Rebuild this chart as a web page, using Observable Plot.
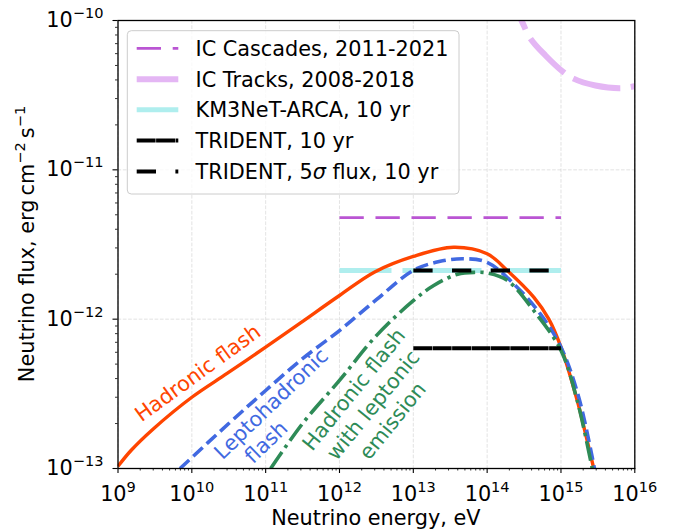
<!DOCTYPE html>
<html><head><meta charset="utf-8">
<script src="https://cdn.jsdelivr.net/npm/d3@7"></script>
<script src="https://cdn.jsdelivr.net/npm/@observablehq/plot@0.6"></script>
<style>
body{margin:0;background:#fff;font-family:"DejaVu Sans",sans-serif;}
</style></head><body><div id="chart"></div>
<script>
// ---- data ----
const hadE = [1e9, 1.5e9, 3e9, 1e10, 3e10, 1e11, 3e11, 1e12, 3e12, 1e13, 3.5e13, 1e14, 1.87e14, 4.3e14, 6.85e14, 1e15, 1.66e15, 2.15e15, 2.78e15];
const hadF = [1.035e-13, 1.32e-13, 1.84e-13, 3.0e-13, 4.33e-13, 6.49e-13, 9.48e-13, 1.44e-12, 2.07e-12, 2.63e-12, 3.03e-12, 2.74e-12, 2.12e-12, 1.40e-12, 1.0e-12, 6.49e-13, 2.85e-13, 1.71e-13, 1.0e-13];

const leptoE = [6.92e9, 3.16e10, 1e11, 3.16e11, 1e12, 3.16e12, 1e13, 2.24e13, 4.83e13, 1e14, 2.3e14, 5.28e14, 1e15, 1.74e15, 2.84e15];
const leptoF = [1e-13, 2.0e-13, 3.33e-13, 5.44e-13, 8.39e-13, 1.35e-12, 2.12e-12, 2.43e-12, 2.54e-12, 2.40e-12, 1.72e-12, 1.08e-12, 6.49e-13, 3.0e-13, 1e-13];

const hlE = [1.17e11, 3.16e11, 1e12, 3.16e12, 1e13, 1.89e13, 3.98e13, 6.95e13, 1e14, 1.87e14, 4.29e14, 1e15, 1.66e15, 2.65e15];
const hlF = [1e-13, 2.0e-13, 3.89e-13, 7.76e-13, 1.33e-12, 1.68e-12, 2.0e-12, 2.06e-12, 2.04e-12, 1.82e-12, 1.14e-12, 6.17e-13, 2.85e-13, 1e-13];

const tracksE = [2.51e14, 2.99e14, 3.86e14, 6.17e14, 1.08e15, 1.48e15, 2.93e15, 6.40e15, 1e16];
const tracksF = [1.17e-10, 9.75e-11, 7.57e-11, 5.83e-11, 4.51e-11, 4.08e-11, 3.67e-11, 3.52e-11, 3.63e-11];

const cascE = [1e12, 1e15];
const cascF = [4.78e-12, 4.78e-12];
const km3E = [1e12, 1e15];
const km3F = [2.12e-12, 2.12e-12];
const tri10E = [1e13, 1e15];
const tri10F = [6.38e-13, 6.38e-13];
const tri5E = [1e13, 1e15];
const tri5F = [2.12e-12, 2.12e-12];

const xMajor = [1e9, 1e10, 1e11, 1e12, 1e13, 1e14, 1e15, 1e16];
const xTickLabels = ["10^9", "10^10", "10^11", "10^12", "10^13", "10^14", "10^15", "10^16"];
const yMajor = [1e-13, 1e-12, 1e-11, 1e-10];
const yTickLabels = ["10^-13", "10^-12", "10^-11", "10^-10"];

const legendLabels = ["IC Cascades, 2011-2021", "IC Tracks, 2008-2018", "KM3NeT-ARCA, 10 yr", "TRIDENT, 10 yr", "TRIDENT, 5σ flux, 10 yr"];
const curveLabels = [
  {t: "Hadronic flash", e: 1.18e10, f: 4.41e-13, r: -36, c: "#ff4500"},
  {t: "Leptohadronic", e: 1.16e11, f: 2.74e-13, r: -44, c: "#4169e1"},
  {t: "flash", e: 9.95e10, f: 1.52e-13, r: -44, c: "#4169e1"},
  {t: "Hadronic flash\nwith leptonic\nemission", e: 2.80e12, f: 2.68e-13, r: -51, c: "#2e8b57"}
];

// ---- layout ----
const W = 673, H = 529;
const ML = 117.5, MR = 673 - 634.3, MT = 20, MB = 529 - 468;
const FS = 20.8;
const rows = (E, F) => E.map((e, i) => ({e, f: F[i]}));
const xMinor = [], yMinor = [];
for (let p = 9; p < 16; p++) for (let m = 2; m < 10; m++) xMinor.push(m * Math.pow(10, p));
for (let p = -13; p < -10; p++) for (let m = 2; m < 10; m++) yMinor.push(m * Math.pow(10, p));

const C = {casc: "#ba55d3", tracks: "#e4b6f4", km3: "#afeeee", tri: "#000"};
const gridStyle = {stroke: "#b0b0b0", strokeOpacity: 0.45, strokeWidth: 0.8, strokeDasharray: "3.7,1.6"};
const lineBase = {x: "e", y: "f", strokeLinecap: "butt", clip: true};

const plot = Plot.plot({
  width: W, height: H,
  marginLeft: ML, marginRight: MR, marginTop: MT, marginBottom: MB,
  style: {fontFamily: "'DejaVu Sans', sans-serif", fontSize: FS + "px", background: "#fff", color: "#000", overflow: "visible"},
  x: {type: "log", domain: [1e9, 1e16], label: null},
  y: {type: "log", domain: [1e-13, 1e-10], label: null},
  marks: [
    Plot.gridX(xMajor, gridStyle),
    Plot.gridY(yMajor, gridStyle),
    Plot.line(rows(km3E, km3F), {...lineBase, stroke: C.km3, strokeWidth: 5, strokeDasharray: "52,11,79,9,80"}),
    Plot.line(rows(cascE, cascF), {...lineBase, stroke: C.casc, strokeWidth: 2.7, strokeDasharray: "24.3,11.7"}),
    Plot.line(rows(tracksE, tracksF), {...lineBase, stroke: C.tracks, strokeWidth: 6, strokeDasharray: "48.4,10.4", curve: "catmull-rom"}),
    Plot.line(rows(hadE, hadF), {...lineBase, stroke: "#ff4500", strokeWidth: 3.4, curve: "catmull-rom"}),
    Plot.line(rows(leptoE, leptoF), {...lineBase, stroke: "#4169e1", strokeWidth: 3.6, strokeDasharray: "12.8,5.4", curve: "catmull-rom"}),
    Plot.line(rows(hlE, hlF), {...lineBase, stroke: "#2e8b57", strokeWidth: 3.6, strokeDasharray: "20,5.2,3.4,5.2", curve: "catmull-rom"}),
    Plot.line(rows(tri10E, tri10F), {...lineBase, stroke: C.tri, strokeWidth: 4, strokeDasharray: "18.9,0.5"}),
    Plot.line(rows(tri5E, tri5F), {...lineBase, stroke: C.tri, strokeWidth: 4, strokeDasharray: "19.3,19.4"}),
    ...curveLabels.map(L => Plot.text([L], {x: "e", y: "f", text: "t", rotate: L.r, fill: L.c, fontSize: FS, textAnchor: "middle", lineAnchor: "middle", lineHeight: 1.2})),
    Plot.frame({stroke: "#000", strokeWidth: 1.3}),
    Plot.axisX(xMinor, {tickSize: 2.5, tickFormat: () => "", strokeWidth: 0.8, label: null}),
    Plot.axisX(xMajor, {tickSize: 5, tickPadding: 13, strokeWidth: 1.1, label: null, fontSize: FS,
      tickFormat: d => xTickLabels[Math.round(Math.log10(d)) - 9]}),
    Plot.axisY(yMinor, {tickSize: 2.5, tickFormat: () => "", strokeWidth: 0.8, label: null}),
    Plot.axisY(yMajor, {tickSize: 5, tickPadding: 9.5, strokeWidth: 1.1, label: null, fontSize: FS,
      tickFormat: d => yTickLabels[Math.round(Math.log10(d)) + 13]})
  ]
});

const svg = d3.select(plot);
// superscript tick labels
svg.selectAll("text").each(function () {
  const s = this.textContent;
  const m = s.match(/^10\^(.+)$/);
  if (!m) return;
  const t = d3.select(this);
  t.text(null);
  t.append("tspan").text("10");
  t.append("tspan").attr("dy", -9).attr("font-size", (FS * 0.7) + "px").text(m[1].replace("-", "\u2212"));
});

// axis titles
svg.append("text").attr("x", (ML + 634.3) / 2).attr("y", 525).attr("text-anchor", "middle")
  .attr("font-size", FS).attr("fill", "#000").text("Neutrino energy, eV");
const yl = svg.append("text").attr("transform", "translate(33.7,244) rotate(-90)").attr("text-anchor", "middle")
  .attr("font-size", FS).attr("fill", "#000");
yl.append("tspan").text("Neutrino flux, erg\u2009cm");
yl.append("tspan").attr("dy", -9).attr("font-size", FS * 0.7).text("\u22122");
yl.append("tspan").attr("dy", 9).text("\u2009s");
yl.append("tspan").attr("dy", -9).attr("font-size", FS * 0.7).text("\u22121");

// legend
const lg = svg.append("g").attr("text-anchor", "start");
lg.append("rect").attr("x", 127.3).attr("y", 30.7).attr("width", 331.7).attr("height", 163.3).attr("rx", 4)
  .attr("fill", "#fff").attr("fill-opacity", 0.8).attr("stroke", "#cccccc").attr("stroke-width", 1);
const rowsY = [48.3, 79.2, 109.8, 140.5, 171.4];
const sw = [
  {c: C.casc, w: 2.7, d: "24.3,11.7"},
  {c: C.tracks, w: 6, d: null},
  {c: C.km3, w: 5, d: null},
  {c: C.tri, w: 4, d: "18.9,0.5"},
  {c: C.tri, w: 4, d: "19.3,19.4"}
];
legendLabels.forEach((lab, i) => {
  const y = rowsY[i];
  const ln = lg.append("line").attr("x1", 136.7).attr("x2", 178.3).attr("y1", y).attr("y2", y)
    .attr("stroke", sw[i].c).attr("stroke-width", sw[i].w).attr("stroke-linecap", "butt");
  if (sw[i].d) ln.attr("stroke-dasharray", sw[i].d);
  const tx = lg.append("text").attr("x", 195.5).attr("y", y + 7.6).attr("text-anchor", "start")
    .attr("font-size", FS).attr("fill", "#000");
  const parts = lab.split("σ");
  tx.append("tspan").text(parts[0]);
  if (parts.length > 1) {
    tx.append("tspan").attr("font-style", "italic").text("σ");
    tx.append("tspan").text(parts[1]);
  }
});

document.getElementById("chart").appendChild(plot);

// phase the IC Tracks dashes so that a dash begins at the third sampled point (as in the reference)
(function () {
  const xs = plot.scale("x");
  const target = xs.apply(tracksE[2]);
  const p = Array.from(plot.querySelectorAll("g[stroke] path")).find(n => n.parentNode.getAttribute("stroke") === C.tracks);
  if (!p) return;
  const L = p.getTotalLength();
  let lo = 0, hi = L;
  for (let k = 0; k < 40; k++) {
    const mid = (lo + hi) / 2;
    if (p.getPointAtLength(mid).x < target) lo = mid; else hi = mid;
  }
  p.setAttribute("stroke-dashoffset", -lo);
})();
</script></body></html>
